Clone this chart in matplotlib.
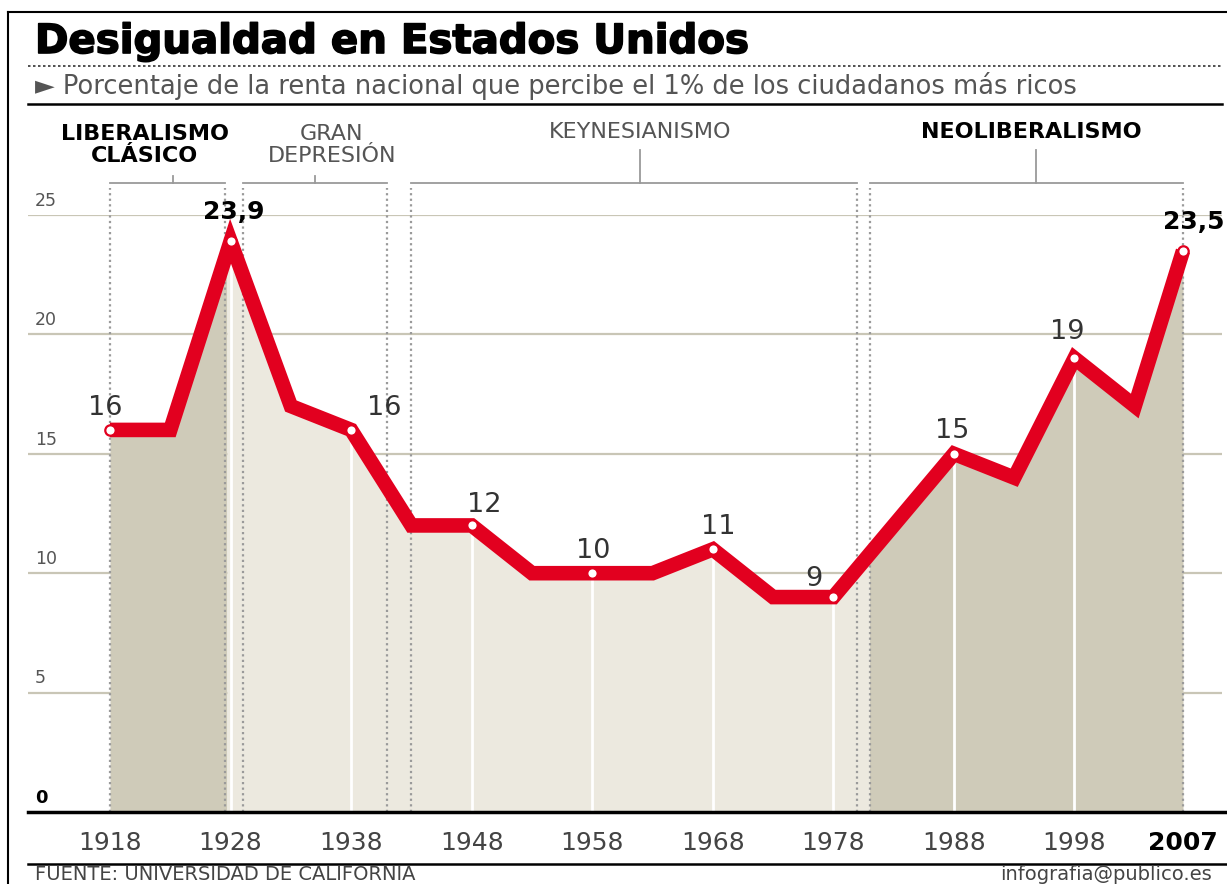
import numpy as np
import matplotlib
matplotlib.use("Agg")
import matplotlib.pyplot as plt
from matplotlib.lines import Line2D
import matplotlib.transforms as mtransforms
import matplotlib.patheffects as pe

# data
years = [1918, 1923, 1928, 1933, 1938, 1943, 1948, 1953, 1958, 1963,
         1968, 1973, 1978, 1983, 1988, 1993, 1998, 2003, 2007]
share = [16, 16, 23.9, 17, 16, 12, 12, 10, 10, 10,
         11, 9, 9, 12, 15, 14, 19, 17, 23.5]
label_years = [1918, 1928, 1938, 1948, 1958, 1968, 1978, 1988, 1998, 2007]
label_texts = ['16', '23,9', '16', '12', '10', '11', '9', '15', '19', '23,5']
tick_years = [1918, 1928, 1938, 1948, 1958, 1968, 1978, 1988, 1998, 2007]
ytick_vals = [5, 10, 15, 20, 25]

era_names = ['LIBERALISMO\nCLÁSICO', 'GRAN\nDEPRESIÓN', 'KEYNESIANISMO', 'NEOLIBERALISMO']
era_start = [1918, 1929, 1943, 1981]
era_end = [1927.5, 1941, 1980, 2007]

# layout / style
W, H = 1227, 884
RED = '#e2001f'
DARK = '#cfcbb9'
LIGHT = '#ece9df'
GRID = '#c9c6b6'
# label offsets in pixels (dx, dy), one per labelled point
label_off = [(-5, 22), (3, 29), (33, 22), (13, 20), (1, 22), (5, 22),
             (-19, 18), (-2, 23), (-7, 26), (11, 29)]
label_bold = [False, True, False, False, False, False, False, False, False, True]
era_bold = [True, False, False, True]
era_text_x = [1920.9, 1936.4, 1962.0, 1994.4]
era_tick_x = [1923.2, 1935.0, 1962.0, 1994.8]


def fx(px):
    return px / W


def fy(py):
    return 1 - py / H


fig = plt.figure(figsize=(W / 100, H / 100), dpi=100, facecolor='white')
ppy = (1183 - 110) / (2007 - 1918)
ax = fig.add_axes([fx(28), fy(812), fx(1222) - fx(28), fy(215) - fy(812)])
ax.set_xlim(1918 - (110 - 28) / ppy, 1918 + (1222 - 110) / ppy)
ax.set_ylim(0, 25)
for s in ax.spines.values():
    s.set_visible(False)
ax.set_yticks([])

# horizontal grid
for v in ytick_vals:
    ax.axhline(v, color=GRID, lw=1.6, zorder=1)
ytrans = mtransforms.blended_transform_factory(ax.transAxes, ax.transData)
for v in ytick_vals:
    ax.text(0.006, v + 0.22, str(v), transform=ytrans, fontsize=12.5,
            color='#555555', ha='left', va='bottom')
ax.text(0.006, 0.22, '0', transform=ytrans, fontsize=13, fontweight='bold',
        color='black', ha='left', va='bottom')

# shaded areas under the line, per era
yrs = np.array(years, dtype=float)
vals = np.array(share, dtype=float)


def fill_span(a, b, color):
    xs = np.concatenate([[a], yrs[(yrs > a) & (yrs < b)], [b]])
    ys = np.interp(xs, yrs, vals)
    ax.fill_between(xs, 0, ys, color=color, lw=0, zorder=2)


fill_span(1918, 1927.7, DARK)
fill_span(1927.7, 1981, LIGHT)
fill_span(1981, 2007, DARK)

# white separators at the decade years
dec = [y for y in tick_years if 1918 < y < 2007]
ax.vlines(dec, 0, np.interp(dec, yrs, vals), color='white', lw=2, zorder=3)

# era dotted lines and brackets
for a, b in zip(era_start, era_end):
    for xv in (a, b):
        ax.plot([xv, xv], [0, 26.15], color='#9a9a9a', lw=1.6, ls=(0, (1, 1.5)),
                zorder=4, clip_on=False)
    ax.plot([a, b], [26.34, 26.34], color='#9a9a9a', lw=1.3, clip_on=False)
for name, bold, tx, kx in zip(era_names, era_bold, era_text_x, era_tick_x):
    two = '\n' in name
    top = 26.63 if two else 27.72
    ax.plot([kx, kx], [26.34, top], color='#9a9a9a', lw=1.3, clip_on=False)
    ax.text(tx, 27.93 if two else 28.48, name, ha='center', va='center',
            fontsize=16, fontweight='bold' if bold else 'normal',
            color='black' if bold else '#555555', linespacing=1.15,
            clip_on=False)

# main line
ax.plot(years, share, color=RED, lw=10.5, solid_joinstyle='miter',
        solid_capstyle='butt', zorder=5)
ly = np.interp(label_years, yrs, vals)
ax.plot(label_years, ly, 'o', ms=7.5, mfc='white', mec=RED, mew=1.6, zorder=6)
for x, y, t, (dx, dy), b in zip(label_years, ly, label_texts, label_off, label_bold):
    ax.annotate(t, (x, y), xytext=(dx, dy), textcoords='offset pixels',
                ha='center', va='center', fontsize=18 if b else 19.5,
                fontweight='bold' if b else 'normal',
                color='black' if b else '#333333', zorder=7)

# x ticks
ax.set_xticks(tick_years)
ax.set_xticklabels([str(y) for y in tick_years], fontsize=18, color='#444444')
ax.tick_params(axis='x', length=0, pad=14)
last = ax.get_xticklabels()[-1]
last.set_fontweight('bold')
last.set_color('black')

# rules, frame and texts around the chart
fig.add_artist(Line2D([fx(28), fx(1227)], [fy(812), fy(812)], color='black', lw=2.5))
fig.add_artist(Line2D([fx(28), fx(1227)], [fy(864), fy(864)], color='black', lw=1.8))
fig.add_artist(Line2D([fx(28), fx(1222)], [fy(104), fy(104)], color='black', lw=1.8))
fig.add_artist(Line2D([fx(28), fx(1222)], [fy(66), fy(66)], color='#333333', lw=1.2,
                      ls=(0, (1.5, 1.5))))
fig.add_artist(Line2D([fx(8), fx(8)], [fy(12), 0], color='black', lw=1.5))
fig.add_artist(Line2D([fx(8), 1], [fy(12), fy(12)], color='black', lw=1.5))

fig.text(fx(35), fy(42), 'Desigualdad en Estados Unidos', fontsize=29,
         fontweight='bold', color='black', ha='left', va='center',
         path_effects=[pe.withStroke(linewidth=1.2, foreground='black')])
fig.text(fx(35), fy(86), '► Porcentaje de la renta nacional que percibe el 1% '
         'de los ciudadanos más ricos', fontsize=18.5, color='#555555',
         ha='left', va='center')
fig.text(fx(35), fy(880), 'FUENTE: UNIVERSIDAD DE CALIFORNIA', fontsize=14,
         color='#444444', ha='left', va='baseline')
fig.text(fx(1212), fy(880), 'infografia@publico.es', fontsize=14,
         color='#444444', ha='right', va='baseline')

fig.savefig('out.png', dpi=100, facecolor='white')
